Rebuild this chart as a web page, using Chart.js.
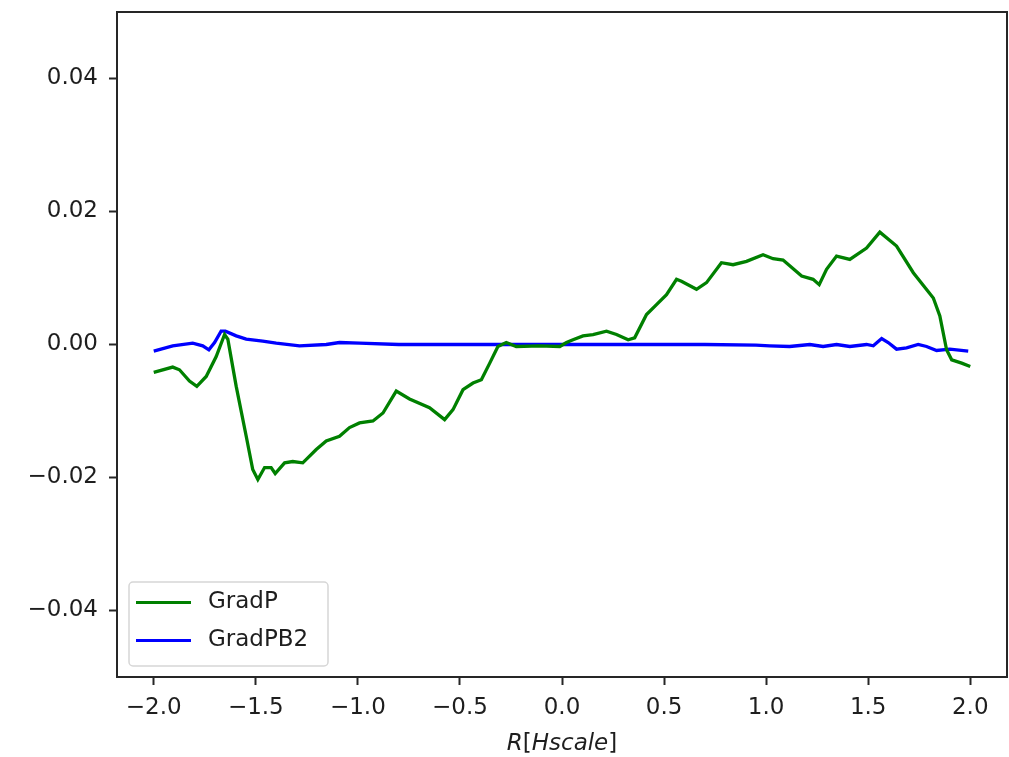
<!DOCTYPE html>
<html>
<head>
<meta charset="utf-8">
<script src="https://cdn.jsdelivr.net/npm/chart.js@4.4.0/dist/chart.umd.min.js"></script>
<style>
  html, body { margin: 0; padding: 0; background: #ffffff; }
  #wrap { width: 1009px; height: 757px; }
</style>
</head>
<body>
<div id="wrap"><canvas id="c" width="1009" height="757"></canvas></div>
<script>
// Pressure gradient profile along R
const gradPX = [
  -2.000, -1.907, -1.874, -1.825, -1.789, -1.743, -1.694, -1.653, -1.637, -1.596,
  -1.547, -1.515, -1.490, -1.457, -1.425, -1.405, -1.359, -1.319, -1.270, -1.204,
  -1.155, -1.090, -1.041, -0.992, -0.926, -0.877, -0.812, -0.747, -0.649, -0.575,
  -0.534, -0.485, -0.436, -0.395, -0.354, -0.314, -0.273, -0.224, -0.109, -0.011,
   0.022,  0.054,  0.103,  0.152,  0.218,  0.267,  0.324,  0.356,  0.414,  0.463,
   0.512,  0.561,  0.585,  0.659,  0.708,  0.781,  0.838,  0.904,  0.985,  1.034,
   1.083,  1.174,  1.230,  1.260,  1.296,  1.345,  1.410,  1.492,  1.557,  1.639,
   1.721,  1.819,  1.851,  1.884,  1.909,  1.958,  2.000
];
const gradPY = [
  -0.0042, -0.0034, -0.0038, -0.0055, -0.0063, -0.0048, -0.0018,  0.0015,  0.0008, -0.0063,
  -0.0138, -0.0188, -0.0203, -0.0185, -0.0185, -0.0194, -0.0178, -0.0176, -0.0178, -0.0158,
  -0.0145, -0.0138, -0.0125, -0.0118, -0.0115, -0.0103, -0.0070, -0.0082, -0.0095, -0.0113,
  -0.0098, -0.0068, -0.0058, -0.0053, -0.0028, -0.0003,  0.0003, -0.0003, -0.0002, -0.0003,
   0.0003,  0.0007,  0.0013,  0.0015,  0.0020,  0.0015,  0.0007,  0.0010,  0.0045,  0.0060,
   0.0075,  0.0098,  0.0095,  0.0083,  0.0093,  0.0123,  0.0120,  0.0125,  0.0135,  0.0129,
   0.0127,  0.0103,  0.0098,  0.0090,  0.0113,  0.0133,  0.0128,  0.0145,  0.0169,  0.0148,
   0.0108,  0.0070,  0.0043, -0.0008, -0.0023, -0.0028, -0.0033
];

// Magnetic pressure gradient profile along R
const gradPB2X = [
  -2.000, -1.907, -1.809, -1.760, -1.730, -1.702, -1.670, -1.649, -1.596, -1.547,
  -1.466, -1.400, -1.286, -1.155, -1.090, -0.992, -0.800, -0.500, -0.200,  0.100,
   0.400,  0.700,  0.950,  1.017,  1.115,  1.214,  1.279,  1.345,  1.410,  1.492,
   1.525,  1.566,  1.598,  1.639,  1.688,  1.745,  1.786,  1.835,  1.900,  1.990
];
const gradPB2Y = [
  -0.0010, -0.0002,  0.0002, -0.0002, -0.0008,  0.0003,  0.0020,  0.0020,  0.0013,  0.0008,
   0.0005,  0.0002, -0.0002,  0.0000,  0.0003,  0.0002,  0.0000,  0.0000,  0.0000,  0.0000,
   0.0000,  0.0000, -0.0001, -0.0002, -0.0003,  0.0000, -0.0003,  0.0000, -0.0003,  0.0000,
  -0.0002,  0.0009,  0.0003, -0.0007, -0.0005,  0.0000, -0.0003, -0.0009, -0.0007, -0.0010
];

const seriesNames = ['GradP', 'GradPB2'];
const seriesColors = ['#008000', '#0000ff'];
const xTicks = [-2.0, -1.5, -1.0, -0.5, 0.0, 0.5, 1.0, 1.5, 2.0];
const yTicks = [-0.04, -0.02, 0.00, 0.02, 0.04];
// Axis label pieces: [text, italic?] — letters italic, brackets upright
const xTitleParts = [['R', true], ['[', false], ['Hscale', true], [']', false]];

const FONT = '"DejaVu Sans", sans-serif';
const TEXT = '#1e1e1e';
const SPINE = '#262626';

function toPoints(xs, ys) {
  return xs.map((x, i) => ({ x: x, y: ys[i] }));
}
function signed(v, digits) {
  const s = Math.abs(v).toFixed(digits);
  return (v < 0 && Math.abs(v) > 1e-12 ? '\u2212' : '') + s;
}
function clearScalePadding(scale) {
  scale.paddingTop = 0;
  scale.paddingBottom = 0;
  scale.paddingLeft = 0;
  scale.paddingRight = 0;
}

// Box around the plotting area
const framePlugin = {
  id: 'frame',
  afterDatasetsDraw(chart) {
    const a = chart.chartArea, ctx = chart.ctx;
    ctx.save();
    ctx.strokeStyle = SPINE;
    ctx.lineWidth = 2;
    ctx.strokeRect(a.left, a.top, a.right - a.left, a.bottom - a.top);
    ctx.restore();
  }
};

// x-axis label with mixed italic / upright glyphs
const xLabelPlugin = {
  id: 'xLabel',
  afterDraw(chart) {
    const a = chart.chartArea, ctx = chart.ctx;
    ctx.save();
    ctx.textBaseline = 'alphabetic';
    ctx.textAlign = 'left';
    ctx.fillStyle = TEXT;
    const fontFor = it => (it ? 'italic ' : '') + '23px ' + FONT;
    let total = 0;
    xTitleParts.forEach(([t, it]) => { ctx.font = fontFor(it); total += ctx.measureText(t).width; });
    let x = (a.left + a.right) / 2 - total / 2;
    const y = 750;
    xTitleParts.forEach(([t, it]) => {
      ctx.font = fontFor(it);
      ctx.fillText(t, x, y);
      x += ctx.measureText(t).width;
    });
    ctx.restore();
  }
};

// Legend drawn in the lower-left corner of the plotting area
const innerLegend = {
  id: 'innerLegend',
  afterDraw(chart) {
    const a = chart.chartArea, ctx = chart.ctx;
    const w = 199, h = 84;
    const x0 = a.left + 12, y0 = a.bottom - 11 - h;
    ctx.save();
    ctx.beginPath();
    const r = 4;
    ctx.moveTo(x0 + r, y0);
    ctx.arcTo(x0 + w, y0, x0 + w, y0 + h, r);
    ctx.arcTo(x0 + w, y0 + h, x0, y0 + h, r);
    ctx.arcTo(x0, y0 + h, x0, y0, r);
    ctx.arcTo(x0, y0, x0 + w, y0, r);
    ctx.closePath();
    ctx.fillStyle = 'rgba(255,255,255,0.8)';
    ctx.fill();
    ctx.strokeStyle = '#d6d6d6';
    ctx.lineWidth = 1.5;
    ctx.stroke();
    ctx.font = '23px ' + FONT;
    ctx.textBaseline = 'middle';
    ctx.textAlign = 'left';
    chart.data.datasets.forEach((ds, i) => {
      const yy = y0 + 20.5 + i * 38;
      ctx.strokeStyle = ds.borderColor;
      ctx.lineWidth = 3;
      ctx.beginPath();
      ctx.moveTo(x0 + 7, yy);
      ctx.lineTo(x0 + 62, yy);
      ctx.stroke();
      ctx.fillStyle = TEXT;
      ctx.fillText(ds.label, x0 + 79, yy);
    });
    ctx.restore();
  }
};

new Chart(document.getElementById('c'), {
  type: 'line',
  data: {
    datasets: [
      {
        label: seriesNames[0],
        data: toPoints(gradPX, gradPY),
        borderColor: seriesColors[0],
        backgroundColor: seriesColors[0],
        borderWidth: 3.3,
        pointRadius: 0,
        tension: 0,
        fill: false
      },
      {
        label: seriesNames[1],
        data: toPoints(gradPB2X, gradPB2Y),
        borderColor: seriesColors[1],
        backgroundColor: seriesColors[1],
        borderWidth: 3.3,
        pointRadius: 0,
        tension: 0,
        fill: false
      }
    ]
  },
  options: {
    responsive: false,
    animation: false,
    events: [],
    layout: { padding: { left: 0, right: 2, top: 12, bottom: 0 } },
    plugins: {
      legend: { display: false },
      tooltip: { enabled: false },
      title: { display: false }
    },
    scales: {
      x: {
        type: 'linear',
        min: -2.18,
        max: 2.18,
        afterBuildTicks(scale) { scale.ticks = xTicks.map(v => ({ value: v })); },
        afterFit(scale) { scale.height = 80; clearScalePadding(scale); },
        border: { display: false },
        grid: {
          drawOnChartArea: false,
          drawTicks: true,
          tickLength: 8,
          tickColor: SPINE,
          tickWidth: 2
        },
        ticks: {
          color: TEXT,
          font: { family: FONT, size: 23 },
          padding: 9,
          maxRotation: 0,
          autoSkip: false,
          callback: v => signed(v, 1)
        },
        title: { display: false }
      },
      y: {
        type: 'linear',
        min: -0.05,
        max: 0.05,
        afterBuildTicks(scale) { scale.ticks = yTicks.map(v => ({ value: v })); },
        afterFit(scale) { scale.width = 117; clearScalePadding(scale); },
        border: { display: false },
        grid: {
          drawOnChartArea: false,
          drawTicks: true,
          tickLength: 8,
          tickColor: SPINE,
          tickWidth: 2
        },
        ticks: {
          color: TEXT,
          font: { family: FONT, size: 23 },
          padding: 11,
          autoSkip: false,
          callback: v => signed(v, 2)
        }
      }
    }
  },
  plugins: [framePlugin, innerLegend, xLabelPlugin]
});
</script>
</body>
</html>
